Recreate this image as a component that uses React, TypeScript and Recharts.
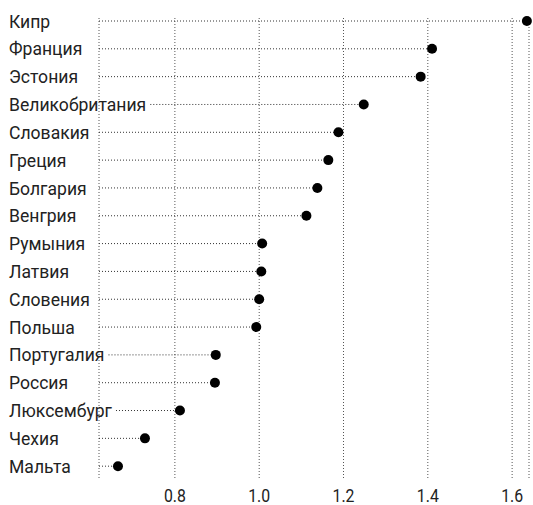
import React from 'react';
import { ComposedChart, Bar, XAxis, YAxis, CartesianGrid } from 'recharts';

const countries = [
  'Кипр', 'Франция', 'Эстония', 'Великобритания', 'Словакия', 'Греция', 'Болгария', 'Венгрия',
  'Румыния', 'Латвия', 'Словения', 'Польша', 'Португалия', 'Россия', 'Люксембург', 'Чехия', 'Мальта',
];
const values = [
  1.635, 1.41, 1.383, 1.248, 1.188, 1.164, 1.138, 1.112,
  1.007, 1.005, 1.0, 0.993, 0.897, 0.895, 0.812, 0.729, 0.665,
];
const xTicks = [0.8, 1.0, 1.2, 1.4, 1.6];

const data = countries.map((name, i) => ({ name, value: values[i] }));

const FONT = "Roboto, 'Liberation Sans', sans-serif";
const FONT_SIZE = 18.5;
const SQUEEZE = 0.95;
const LABEL_X = 9;

let ctx: CanvasRenderingContext2D | null = null;
function textWidth(s: string): number {
  if (!ctx) {
    const c = document.createElement('canvas');
    ctx = c.getContext('2d');
  }
  if (!ctx) return s.length * 9;
  ctx.font = `${FONT_SIZE}px ${FONT}`;
  return ctx.measureText(s).width * SQUEEZE;
}

const Lollipop = (props: any) => {
  const { x, y, width, height, payload } = props;
  const cy = y + height / 2;
  const end = x + width;
  const start = Math.max(x, LABEL_X + textWidth(payload.name) + 4);
  return (
    <g>
      {end > start && (
        <line x1={start} x2={end} y1={cy} y2={cy} stroke="#333" strokeWidth={1} strokeDasharray="1 2" />
      )}
      <circle cx={end} cy={cy} r={5} fill="#000" />
    </g>
  );
};

const YTick = (props: any) => {
  const { y, payload } = props;
  return (
    <text
      transform={`translate(${LABEL_X},${y}) scale(${SQUEEZE},1)`}
      x={0}
      y={0}
      dy="0.36em"
      textAnchor="start"
      fontFamily={FONT}
      fontSize={FONT_SIZE}
      fill="#222"
    >
      {payload.value}
    </text>
  );
};

const XTick = (props: any) => {
  const { x, y, payload } = props;
  return (
    <text
      transform={`translate(${x},${y + 22}) scale(${SQUEEZE * 0.9},1)`}
      x={0}
      y={0}
      textAnchor="middle"
      fontFamily={FONT}
      fontSize={FONT_SIZE}
      fill="#222"
    >
      {Number(payload.value).toFixed(1)}
    </text>
  );
};

const GridLine = (p: any) => (
  <line
    key={`g-${p.index}-${p.x1}`}
    x1={p.x1}
    x2={p.x2}
    y1={p.y1 + 11}
    y2={p.y2 - 2}
    stroke="#555"
    strokeWidth={1}
    strokeDasharray="1 2"
  />
);

export default function App() {
  return (
    <div style={{ position: 'absolute', left: 0, top: 0, width: 533, height: 505, background: '#fff' }}>
      <ComposedChart
        width={533}
        height={505}
        data={data}
        layout="vertical"
        margin={{ top: 7, right: 4, bottom: 0, left: 0 }}
      >
        <CartesianGrid horizontal={false} vertical={GridLine} />
        <XAxis
          type="number"
          domain={[0.62, 1.64]}
          ticks={xTicks}
          axisLine={false}
          tickLine={false}
          tickSize={0}
          tickMargin={0}
          height={25}
          tick={<XTick />}
        />
        <YAxis
          type="category"
          dataKey="name"
          width={99}
          axisLine={false}
          tickLine={false}
          tick={<YTick />}
          interval={0}
        />
        <Bar dataKey="value" shape={<Lollipop />} barSize={10} isAnimationActive={false} />
      </ComposedChart>
    </div>
  );
}
